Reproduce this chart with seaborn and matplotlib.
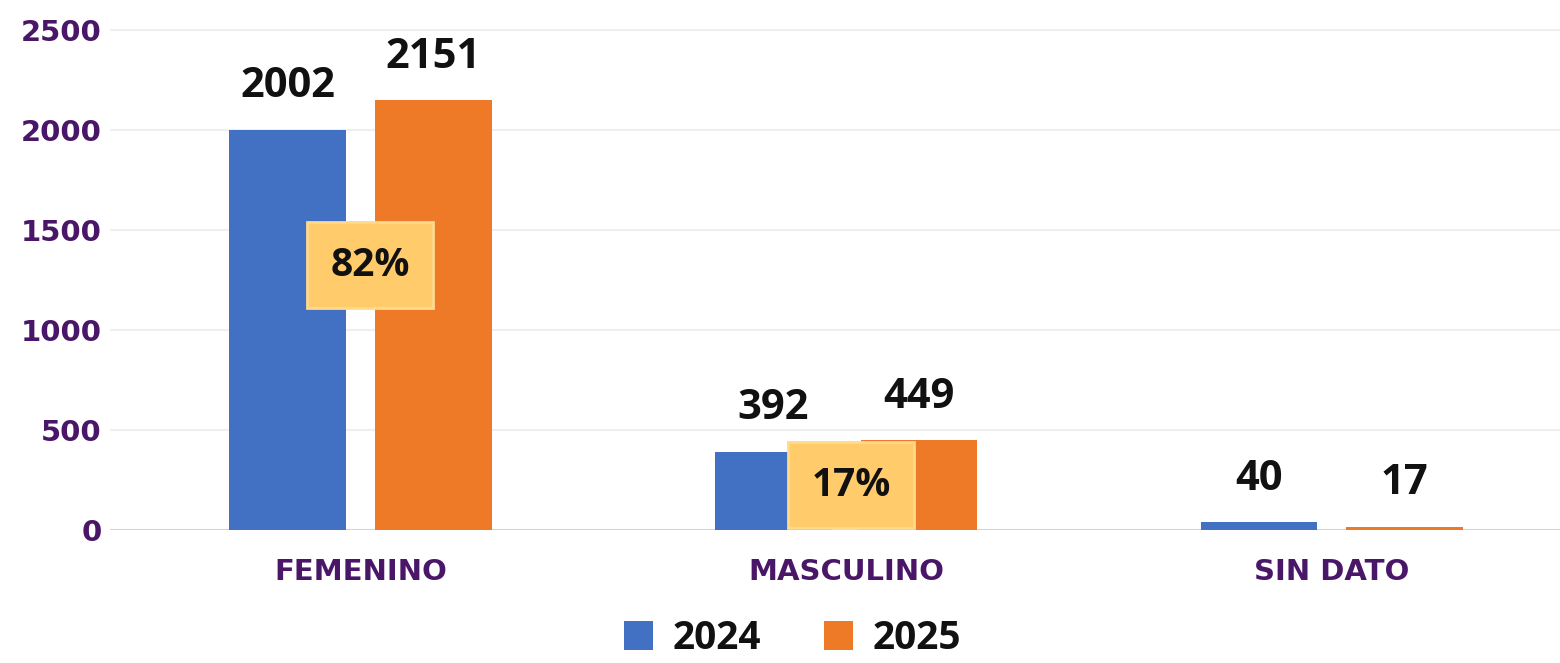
import matplotlib
matplotlib.use("Agg")
import matplotlib.pyplot as plt
import seaborn as sns
import pandas as pd

categories = ["FEMENINO", "MASCULINO", "SIN DATO"]
years = ["2024", "2025"]
values_2024 = [2002, 392, 40]
values_2025 = [2151, 449, 17]
pct_labels = ["82%", "17%"]
pct_pos_x = [0.02, 1.01]
pct_pos_y = [1325, 225]
yticks = [0, 500, 1000, 1500, 2000, 2500]

df = pd.DataFrame({
    "cat": categories * 2,
    "year": [years[0]] * 3 + [years[1]] * 3,
    "val": values_2024 + values_2025,
})

sns.set_theme(style="white")
plt.rcParams["font.family"] = ["DejaVu Sans"]

BLUE = "#4270C2"
ORANGE = "#EE7A27"
PURPLE = "#4A1668"

fig = plt.figure(figsize=(15.6, 6.63), dpi=100)
ax = fig.add_axes([110 / 1560, 133 / 663, 1 - 110 / 1560, 530 / 663])

sns.barplot(data=df, x="cat", y="val", hue="year", order=categories,
            hue_order=years, palette=[BLUE, ORANGE], width=0.6, gap=0.2,
            ax=ax, saturation=1, edgecolor="none")

ax.set_xlim(-0.516, 2.47)
ax.set_ylim(0, 2650)
ax.set_yticks(yticks)
ax.set_yticklabels([str(t) for t in yticks], color=PURPLE, fontweight="bold",
                   fontsize=21, family="DejaVu Sans")
ax.tick_params(axis="y", length=0, pad=6)
ax.tick_params(axis="x", length=0, pad=20)
for lab in ax.get_xticklabels():
    lab.set_color(PURPLE)
    lab.set_fontweight("bold")
    lab.set_fontsize(21)
ax.set_xlabel("")
ax.set_ylabel("")
for s in ax.spines.values():
    s.set_visible(False)
for t in yticks[1:]:
    ax.axhline(t, color="#EFEFEF", lw=1.5, zorder=0)
ax.axhline(0, color="#D4D4D4", lw=1.5, zorder=0, xmin=0, xmax=1)

for cont in ax.containers:
    ax.bar_label(cont, fmt="%d", padding=16, fontsize=30, fontweight="bold",
                 family="Open Sans", color="#111111")

for lbl, x, y in zip(pct_labels, pct_pos_x, pct_pos_y):
    ax.text(x, y, lbl, ha="center", va="center", fontsize=28, fontweight="bold",
            family="Open Sans", color="#111111", zorder=5,
            bbox=dict(boxstyle="square,pad=0.6", facecolor="#FFCB6B",
                      edgecolor="#FFD98C", lw=2))

handles, labels = ax.get_legend_handles_labels()
ax.get_legend().remove()
leg = fig.legend(handles, labels, loc="lower center", bbox_to_anchor=(0.508, -0.045),
                 ncol=2, frameon=False, handlelength=0.75, handleheight=0.75,
                 handletextpad=0.5, columnspacing=1.6,
                 prop={"family": "Open Sans", "weight": "bold", "size": 28})
for t in leg.get_texts():
    t.set_color("#111111")

fig.savefig("out.png", dpi=100, facecolor="white")
